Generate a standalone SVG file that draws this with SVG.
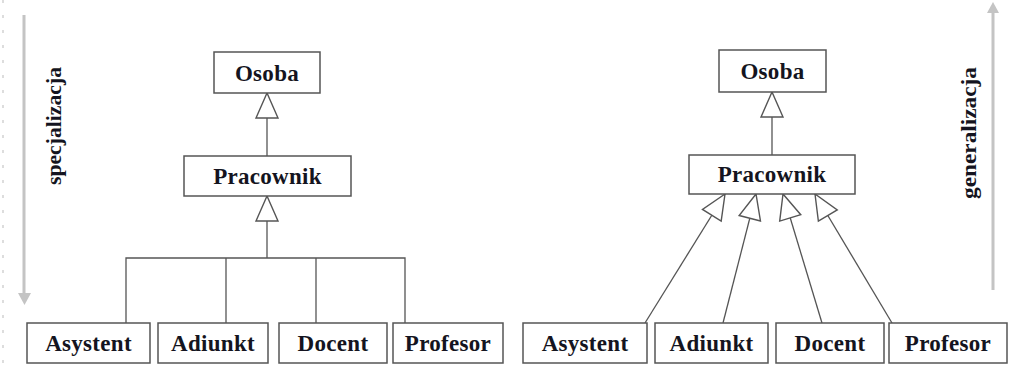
<svg xmlns="http://www.w3.org/2000/svg" width="1012" height="366" viewBox="0 0 1012 366">
  <style>
    .box { fill: #ffffff; stroke: #555555; stroke-width: 1.5; }
    .lbl { font-family: "Liberation Serif", "Times New Roman", serif; font-weight: bold; font-size: 23px; letter-spacing: 0.3px; fill: #141420; text-anchor: middle; }
    .side { font-family: "Liberation Serif", "Times New Roman", serif; font-weight: bold; font-size: 20px; fill: #141420; text-anchor: middle; }
    .conn { fill: none; stroke: #555555; stroke-width: 1.3; }
    .gray { fill: none; stroke: #c4c4c4; stroke-width: 3; }
  </style>
  <defs>
    <marker id="tri" markerUnits="userSpaceOnUse" viewBox="-27 -13 29 26" markerWidth="29" markerHeight="26" refX="0" refY="0" orient="auto" overflow="visible">
      <path d="M0,0 L-25,-11 L-25,11 Z" fill="#ffffff" stroke="#555555" stroke-width="1.4"/>
    </marker>
  </defs>
  <rect width="1012" height="366" fill="#ffffff"/>
  <line x1="3" y1="0" x2="3" y2="366" stroke="#dddddd" stroke-width="2" stroke-dasharray="3 12"/>

  <g id="spec-arrow">
    <line class="gray" x1="24" y1="15" x2="24" y2="293"/>
    <path d="M18,293 L31,293 L24.5,305 Z" fill="#c4c4c4"/>
    <text class="side" transform="translate(61,126) rotate(-90)" textLength="118" lengthAdjust="spacingAndGlyphs">specjalizacja</text>
  </g>
  <g id="gen-arrow">
    <line class="gray" x1="993" y1="12" x2="993" y2="290"/>
    <path d="M987,13 L999,13 L993,2 Z" fill="#c4c4c4"/>
    <text class="side" transform="translate(976,133) rotate(-90)" textLength="132" lengthAdjust="spacingAndGlyphs">generalizacja</text>
  </g>

  <g id="connectors">
    <line class="conn" x1="267" y1="156" x2="267" y2="93" marker-end="url(#tri)"/>
    <line class="conn" x1="267" y1="258" x2="267" y2="196" marker-end="url(#tri)"/>
    <polyline class="conn" points="126,323 126,258 405,258 405,323"/>
    <line class="conn" x1="226" y1="258" x2="226" y2="323"/>
    <line class="conn" x1="316" y1="258" x2="316" y2="323"/>
    <line class="conn" x1="772" y1="155" x2="772" y2="92" marker-end="url(#tri)"/>
    <line class="conn" x1="645" y1="323" x2="725" y2="194" marker-end="url(#tri)"/>
    <line class="conn" x1="723" y1="323" x2="756" y2="194" marker-end="url(#tri)"/>
    <line class="conn" x1="822" y1="323" x2="783" y2="194" marker-end="url(#tri)"/>
    <line class="conn" x1="892" y1="323" x2="815" y2="194" marker-end="url(#tri)"/>
  </g>

  <g id="L-Osoba"><rect class="box" x="214" y="52" width="106" height="41"/><text class="lbl" x="267" y="81">Osoba</text></g>
  <g id="L-Pracownik"><rect class="box" x="184" y="156" width="167" height="40"/><text class="lbl" x="267.5" y="184">Pracownik</text></g>
  <g id="L-Asystent"><rect class="box" x="27" y="323" width="123" height="40"/><text class="lbl" x="88.5" y="351">Asystent</text></g>
  <g id="L-Adiunkt"><rect class="box" x="158" y="323" width="110" height="40"/><text class="lbl" x="213" y="351">Adiunkt</text></g>
  <g id="L-Docent"><rect class="box" x="279" y="323" width="108" height="40"/><text class="lbl" x="333" y="351">Docent</text></g>
  <g id="L-Profesor"><rect class="box" x="393" y="323" width="110" height="40"/><text class="lbl" x="448" y="351">Profesor</text></g>

  <g id="R-Osoba"><rect class="box" x="719" y="50" width="107" height="42"/><text class="lbl" x="772.5" y="79">Osoba</text></g>
  <g id="R-Pracownik"><rect class="box" x="689" y="155" width="166" height="39"/><text class="lbl" x="772" y="182">Pracownik</text></g>
  <g id="R-Asystent"><rect class="box" x="523" y="323" width="124" height="40"/><text class="lbl" x="585" y="351">Asystent</text></g>
  <g id="R-Adiunkt"><rect class="box" x="655" y="323" width="113" height="40"/><text class="lbl" x="711.5" y="351">Adiunkt</text></g>
  <g id="R-Docent"><rect class="box" x="776" y="323" width="108" height="40"/><text class="lbl" x="830" y="351">Docent</text></g>
  <g id="R-Profesor"><rect class="box" x="889" y="323" width="118" height="40"/><text class="lbl" x="948" y="351">Profesor</text></g>
</svg>
